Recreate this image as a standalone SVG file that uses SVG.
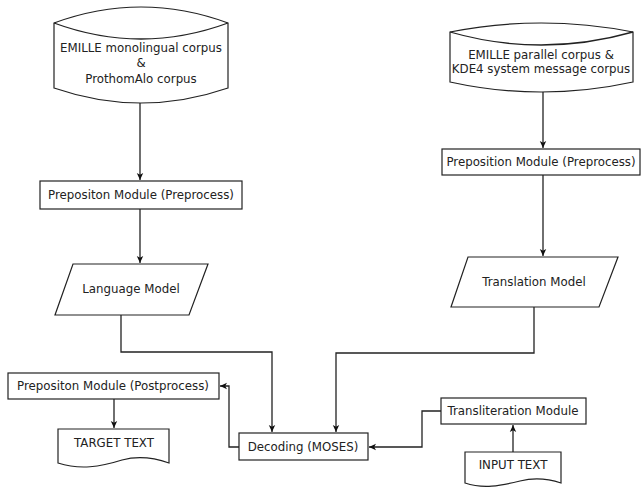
<svg xmlns="http://www.w3.org/2000/svg" width="642" height="489" viewBox="0 0 642 489">
<style>
.s{fill:#fff;stroke:#222;stroke-width:1.2}
.c{fill:none;stroke:#222;stroke-width:1.3}
text{font-family:"DejaVu Sans",Verdana,sans-serif;font-size:11.8px;fill:#222;text-anchor:middle;dominant-baseline:central}
</style>
<defs>
<marker id="a" markerWidth="8" markerHeight="8" refX="7" refY="4" orient="auto" markerUnits="userSpaceOnUse">
<path d="M0,0.8 L7,4 L0,7.2 L1.8,4 z" fill="#111"/>
</marker>
</defs>
<rect width="642" height="489" fill="#fff"/>
<g id="connectors">
<path class="c" d="M140,103 V180" marker-end="url(#a)"/>
<path class="c" d="M140,209 V263" marker-end="url(#a)"/>
<path class="c" d="M121,315 V352 H272 V432" marker-end="url(#a)"/>
<path class="c" d="M543,92 V148" marker-end="url(#a)"/>
<path class="c" d="M543,175 V256" marker-end="url(#a)"/>
<path class="c" d="M534,307 V353 H336 V432" marker-end="url(#a)"/>
<path class="c" d="M239,447 H229 V386 H220" marker-end="url(#a)"/>
<path class="c" d="M114,399 V428" marker-end="url(#a)"/>
<path class="c" d="M441,411 H422 V447 H369" marker-end="url(#a)"/>
<path class="c" d="M513,452 V425" marker-end="url(#a)"/>
</g>
<g id="corpus-mono">
<path class="s" d="M54,23 Q141,-9 228,23 V88 Q141,118 54,88 Z"/>
<path class="c" d="M54,23 Q141,55 228,23"/>
<text x="141" y="48">EMILLE monolingual corpus</text>
<text x="141" y="63">&amp;</text>
<text x="141" y="79">ProthomAlo corpus</text>
</g>
<g id="corpus-parallel">
<path class="s" d="M450,32 Q541,14 633,32 V82 Q541,102 450,82 Z"/>
<path class="c" d="M450,32 Q541,58 633,32"/>
<text x="541" y="55">EMILLE parallel corpus &amp;</text>
<text x="541" y="69">KDE4 system message corpus</text>
</g>
<g id="prep-left">
<rect class="s" x="40" y="181" width="202" height="28"/>
<text x="141" y="195">Prepositon Module (Preprocess)</text>
</g>
<g id="prep-right">
<rect class="s" x="442" y="149" width="198" height="26"/>
<text x="541" y="162">Preposition Module (Preprocess)</text>
</g>
<g id="language-model">
<path class="s" d="M73,264 H208 L189,315 H55 Z"/>
<text x="131" y="289">Language Model</text>
</g>
<g id="translation-model">
<path class="s" d="M468,257 H618 L599,307 H451 Z"/>
<text x="534" y="282">Translation Model</text>
</g>
<g id="prep-post">
<rect class="s" x="8" y="373" width="211" height="26"/>
<text x="113" y="386">Prepositon Module (Postprocess)</text>
</g>
<g id="target-text">
<path class="s" d="M58,429 H169 V463 C155,458 140,455 122,460 C100,467 80,470 58,463 Z"/>
<text x="114" y="443">TARGET TEXT</text>
</g>
<g id="decoding">
<rect class="s" x="239" y="433" width="129" height="27"/>
<text x="303" y="447">Decoding (MOSES)</text>
</g>
<g id="transliteration">
<rect class="s" x="441" y="398" width="145" height="26"/>
<text x="513" y="411">Transliteration Module</text>
</g>
<g id="input-text">
<path class="s" d="M465,452 H561 V483 C549,479 536,477 520,481 C500,486 483,489 465,483 Z"/>
<text x="513" y="465">INPUT TEXT</text>
</g>
</svg>
